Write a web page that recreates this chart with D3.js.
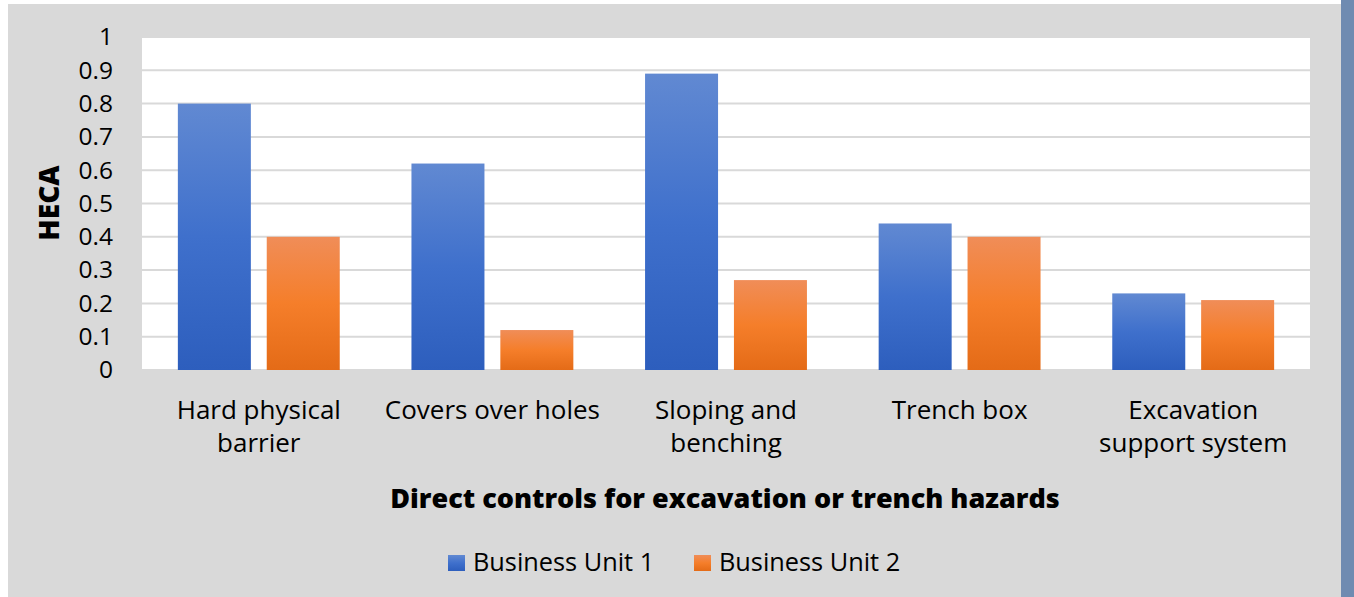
<!DOCTYPE html>
<html>
<head>
<meta charset="utf-8">
<script src="https://cdn.jsdelivr.net/npm/d3@7"></script>
<style>
  body { margin: 0; background: #fff; }
  svg { display: block; font-family: 'Open Sans', 'Noto Sans', sans-serif; }
</style>
</head>
<body>
<div id="chart"></div>
<script>
// chart data
var categories = [['Hard physical', 'barrier'], ['Covers over holes'], ['Sloping and', 'benching'], ['Trench box'], ['Excavation', 'support system']];
var unit1 = [0.80, 0.62, 0.89, 0.44, 0.23];
var unit2 = [0.40, 0.12, 0.27, 0.40, 0.21];
var seriesNames = ['Business Unit 1', 'Business Unit 2'];
var yTicks = [0, 0.1, 0.2, 0.3, 0.4, 0.5, 0.6, 0.7, 0.8, 0.9, 1];

var W = 1354, H = 597;
var margin = {top: 37, right: 44, bottom: 227, left: 142};
var width = 1310 - margin.left;
var height = 370 - margin.top;

var svg = d3.select('#chart')
    .append('svg')
    .attr('width', W)
    .attr('height', H);

//Background panel and right strip
svg.append('rect')
    .attr('x', 8).attr('y', 4)
    .attr('width', 1333).attr('height', H - 4)
    .style('fill', '#d9d9d9');
svg.append('rect')
    .attr('x', 1341).attr('y', 0)
    .attr('width', W - 1341).attr('height', H)
    .style('fill', '#6f8bb1');

//Gradients for the bars
var defs = svg.append('defs');
function makeGradient(id, stops){
    var g = defs.append('linearGradient')
        .attr('id', id)
        .attr('x1', 0).attr('y1', 0).attr('x2', 0).attr('y2', 1);
    stops.forEach(function(s){
        g.append('stop').attr('offset', s[0]).attr('stop-color', s[1]);
    });
}
makeGradient('gBlue', [[0, '#6189d2'], [0.5, '#3f70cc'], [1, '#2d5ebd']]);
makeGradient('gOrange', [[0, '#f08d58'], [0.5, '#f57e2a'], [1, '#e46b17']]);
var fills = ['url(#gBlue)', 'url(#gOrange)'];

var g = svg.append('g')
    .attr('transform', 'translate(' + margin.left + ',' + margin.top + ')');

var x0 = d3.scaleBand()
    .domain(d3.range(categories.length))
    .range([0, width]);

var y = d3.scaleLinear()
    .domain([0, 1])
    .range([height, 0]);

//Plot area
g.append('rect')
    .attr('width', width)
    .attr('height', height)
    .style('fill', '#fff');

//Gridlines
g.selectAll('.grid')
    .data(yTicks)
    .enter()
    .append('line')
    .attr('x1', 0).attr('x2', width)
    .attr('y1', function(d){ return y(d); })
    .attr('y2', function(d){ return y(d); })
    .style('stroke', '#d9d9d9')
    .style('stroke-width', 2);

//Bars
var barW = x0.bandwidth() * 0.3125;
var gap = x0.bandwidth() * 0.068;
[unit1, unit2].forEach(function(series, s){
    g.selectAll('.bar' + s)
        .data(series)
        .enter()
        .append('rect')
        .attr('x', function(d, i){
            var c = x0(i) + x0.bandwidth() / 2;
            return s === 0 ? c - gap / 2 - barW : c + gap / 2;
        })
        .attr('width', barW)
        .attr('y', function(d){ return y(d); })
        .attr('height', function(d){ return height - y(d); })
        .style('fill', fills[s]);
});

//Y axis
var yAxis = g.append('g')
    .call(d3.axisLeft(y).tickValues(yTicks).tickSize(0).tickPadding(29)
        .tickFormat(function(d){ return d === 0 || d === 1 ? d3.format('d')(d) : d3.format('.1f')(d); }));
yAxis.select('.domain').remove();
yAxis.selectAll('text')
    .style('font-size', '24.5px')
    .style('font-family', "'Open Sans', sans-serif")
    .style('fill', '#000');

//Category labels
var cat = g.selectAll('.cat')
    .data(categories)
    .enter()
    .append('text')
    .attr('text-anchor', 'middle')
    .attr('transform', function(d, i){
        return 'translate(' + (x0(i) + x0.bandwidth() / 2) + ',' + (height + 49) + ')';
    })
    .style('font-size', '26px')
    .style('fill', '#000');
cat.selectAll('tspan')
    .data(function(d){ return d; })
    .enter()
    .append('tspan')
    .attr('x', 0)
    .attr('dy', function(d, i){ return i === 0 ? 0 : 33; })
    .text(function(d){ return d; });

//Axis titles
svg.append('text')
    .attr('x', (margin.left + 1310) / 2 - 1)
    .attr('y', 508)
    .attr('text-anchor', 'middle')
    .style('font-size', '27px')
    .style('font-weight', 800)
    .style('font-family', "'Open Sans', sans-serif")
    .text('Direct controls for excavation or trench hazards');

svg.append('text')
    .attr('transform', 'translate(59,203) rotate(-90)')
    .attr('text-anchor', 'middle')
    .style('font-size', '28px')
    .style('font-weight', 800)
    .text('HECA');

//Legend
var legendX = [448, 694];
seriesNames.forEach(function(name, s){
    svg.append('rect')
        .attr('x', legendX[s]).attr('y', 555)
        .attr('width', 17).attr('height', 16)
        .style('fill', fills[s]);
    svg.append('text')
        .attr('x', legendX[s] + 25).attr('y', 571)
        .style('font-size', '25.3px')
        .text(name);
});
</script>
</body>
</html>
